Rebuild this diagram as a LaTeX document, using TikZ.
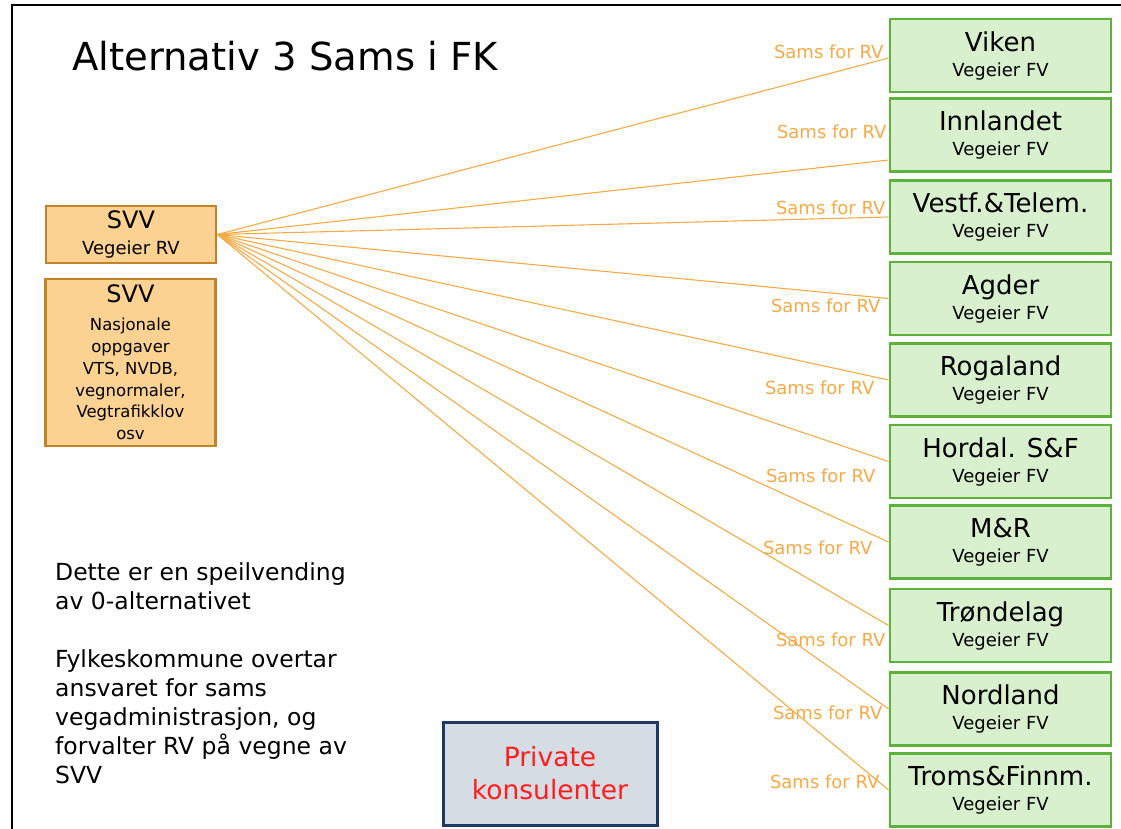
\documentclass[tikz,border=0pt]{standalone}
\usepackage{fontspec}
\setmainfont{DejaVu Sans}
\usepackage{tikz}

\definecolor{svvfill}{RGB}{252,210,146}
\definecolor{svvdraw}{RGB}{196,130,40}
\definecolor{fkfill}{RGB}{217,240,206}
\definecolor{fkdraw}{RGB}{92,178,58}
\definecolor{samsorange}{RGB}{245,170,70}
\definecolor{pkfill}{RGB}{214,220,228}
\definecolor{pkdraw}{RGB}{31,56,100}
\definecolor{pktext}{RGB}{255,30,30}

\newcommand{\fkname}[1]{{\fontsize{26}{26}\selectfont #1}\\Vegeier FV}

\tikzset{
  svvbox/.style={draw=svvdraw, fill=svvfill, line width=2.8pt, align=center,
    minimum width=170pt, inner sep=0pt, font=\fontsize{18}{26}\selectfont},
  fkbox/.style={draw=fkdraw, fill=fkfill, line width=2.8pt, align=center,
    minimum width=221pt, minimum height=73pt, inner sep=0pt,
    font=\fontsize{18}{25}\selectfont},
  samslabel/.style={text=samsorange, anchor=east, inner sep=0pt,
    font=\fontsize{18}{20}\selectfont},
  samsline/.style={draw=samsorange, line width=1.1pt}
}

\begin{document}
\begin{tikzpicture}[x=1pt,y=-1pt]
    \useasboundingbox (0,0) rectangle (1121,829);

    % Frame
    \draw[line width=2pt] (1121,5) -- (12,5) -- (12,829);

    % Title
    \node[anchor=base west, inner sep=0pt, font=\fontsize{38.6}{40}\selectfont]
        (title) at (72,71) {Alternativ 3 Sams i FK};

    % SVV boxes
    \node[svvbox, minimum height=57pt] (svv) at (131,234.5)
        {{\fontsize{24}{24}\selectfont SVV}\\Vegeier RV};
    \node[svvbox, minimum height=167pt, font=\fontsize{16.5}{21.8}\selectfont]
        (svvnat) at (130.5,362.5)
        {{\fontsize{24}{24}\selectfont SVV}\\[6pt]Nasjonale\\oppgaver\\VTS, NVDB,\\vegnormaler,\\Vegtrafikklov\\osv};

    % Fylkeskommuner
    \node[fkbox] (viken) at (1000.5,55.5) {\fkname{Viken}};
    \node[fkbox] (innlandet) at (1000.5,135) {\fkname{Innlandet}};
    \node[fkbox] (vestf) at (1000.5,217) {\fkname{Vestf.\&Telem.}};
    \node[fkbox] (agder) at (1000.5,298.5) {\fkname{Agder}};
    \node[fkbox] (rogaland) at (1000.5,380) {\fkname{Rogaland}};
    \node[fkbox] (hordal) at (1000.5,461.5) {\fkname{Hordal. S\&F}};
    \node[fkbox] (mr) at (1000.5,542) {\fkname{M\&R}};
    \node[fkbox] (trond) at (1000.5,625.5) {\fkname{Trøndelag}};
    \node[fkbox] (nordland) at (1000.5,709) {\fkname{Nordland}};
    \node[fkbox] (troms) at (1000.5,790) {\fkname{Troms\&Finnm.}};

    % Sams lines
    \draw[samsline] (svv.east) -- ([yshift=-2.5pt]viken.west);
    \draw[samsline] (svv.east) -- ([yshift=-25pt]innlandet.west);
    \draw[samsline] (svv.east) -- (vestf.west);
    \draw[samsline] (svv.east) -- (agder.west);
    \draw[samsline] (svv.east) -- (rogaland.west);
    \draw[samsline] (svv.east) -- (hordal.west);
    \draw[samsline] (svv.east) -- (mr.west);
    \draw[samsline] (svv.east) -- (trond.west);
    \draw[samsline] (svv.east) -- (nordland.west);
    \draw[samsline] (svv.east) -- (troms.west);

    % Sams labels
    \node[samslabel] (lviken) at ([shift={(-5,-3.5)}]viken.west) {Sams for RV};
    \node[samslabel] (linnlandet) at ([shift={(-2,-3)}]innlandet.west) {Sams for RV};
    \node[samslabel] (lvestf) at ([shift={(-3,-9)}]vestf.west) {Sams for RV};
    \node[samslabel] (lagder) at ([shift={(-8,7.5)}]agder.west) {Sams for RV};
    \node[samslabel] (lrogaland) at ([shift={(-14,8)}]rogaland.west) {Sams for RV};
    \node[samslabel] (lhordal) at ([shift={(-13,14)}]hordal.west) {Sams for RV};
    \node[samslabel] (lmr) at ([shift={(-16,6)}]mr.west) {Sams for RV};
    \node[samslabel] (ltrond) at ([shift={(-3,14)}]trond.west) {Sams for RV};
    \node[samslabel] (lnordland) at ([shift={(-6,4)}]nordland.west) {Sams for RV};
    \node[samslabel] (ltroms) at ([shift={(-9,-8)}]troms.west) {Sams for RV};

    % Note
    \node[anchor=north west, align=left, inner sep=0pt,
        font=\fontsize{23.5}{29}\selectfont] (note) at (55,562)
        {Dette er en speilvending\\av 0-alternativet\\[29pt]Fylkeskommune overtar\\ansvaret for sams\\vegadministrasjon, og\\forvalter RV på vegne av\\SVV};

    % Private konsulenter
    \node[draw=pkdraw, fill=pkfill, line width=3pt, text=pktext, align=center,
        minimum width=214pt, minimum height=103pt, inner sep=0pt,
        font=\fontsize{26.5}{33}\selectfont] (konsulent) at (550,773.5)
        {Private\\konsulenter};
\end{tikzpicture}
\end{document}
